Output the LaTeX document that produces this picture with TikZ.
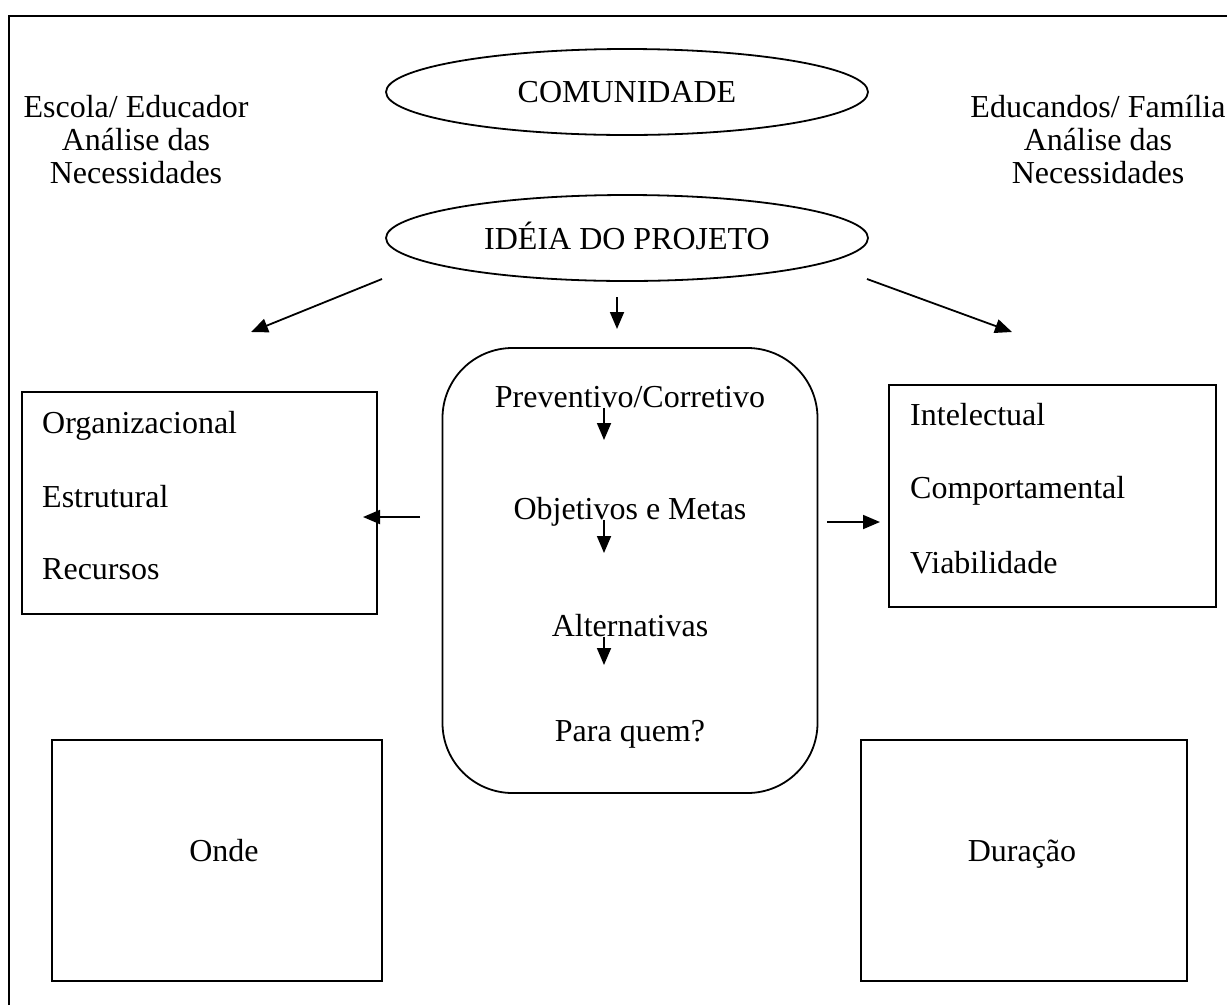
\documentclass[tikz,border=0pt]{standalone}
\usepackage{fontspec}
\setmainfont{Liberation Serif}
\usetikzlibrary{shapes.geometric,arrows.meta}
\begin{document}
\begin{tikzpicture}[x=1pt,y=-1pt,
  every node/.style={font=\fontsize{32}{33}\selectfont, inner sep=0pt},
  lbl/.style={anchor=base west},
  ctr/.style={anchor=base},
  oval/.style={ellipse, draw, line width=1.8pt, minimum width=482pt, minimum height=86pt},
  panel/.style={draw, line width=1.8pt},
  arr/.style={line width=1.8pt, -{Triangle[length=17pt,width=14pt]}},
  frame/.style={line width=2.5pt}]
\useasboundingbox (0,0) rectangle (1227,1005);

% open frame: top and left rules only
\draw[frame] (9,1005) -- (9,16) -- (1227,16);

% top row
\node[oval] (com) at (627,92) {COMUNIDADE};
\node[oval] (idea) at (627,238) {\raisebox{0pt}[0.7em][0pt]{IDÉIA DO PROJETO}};
\node[align=center, anchor=north] (escola) at (136,95)
  {Escola/ Educador\\Análise das\\Necessidades};
\node[align=center, anchor=north] (educ) at (1098,95)
  {Educandos/ Família\\Análise das\\Necessidades};

% side panels
\node[panel, minimum width=355pt, minimum height=222pt] (lbox) at (199.5,503) {};
\node[lbl] (org) at (42,433) {Organizacional};
\node[lbl] (est) at (42,507) {Estrutural};
\node[lbl] (rec) at (42,579) {Recursos};

\node[panel, minimum width=327pt, minimum height=222pt] (rbox) at (1052.5,496) {};
\node[lbl] (int) at (910,425) {Intelectual};
\node[lbl] (comp) at (910,498) {Comportamental};
\node[lbl] (via) at (910,573) {Viabilidade};

% central rounded panel
\node[panel, rounded corners=70pt, minimum width=375pt, minimum height=445pt] (mid) at (630,570.5) {};
\node[ctr] (prev) at (630,407) {Preventivo/Corretivo};
\node[ctr] (obj) at (630,519) {Objetivos e Metas};
\node[ctr] (alt) at (630,636) {Alternativas};
\node[ctr] (para) at (630,741) {Para quem?};

% bottom panels
\node[panel, minimum width=330pt, minimum height=241pt] (onde) at (217,860.5) {};
\node[ctr] (ondet) at (224,861) {Onde};
\node[panel, minimum width=326pt, minimum height=241pt] (dur) at (1024,860.5) {};
\node[ctr] (durt) at (1022,861) {Duração};

% connector ends
\coordinate (la0) at (382,279);  \coordinate (la1) at (251,332);
\coordinate (ra0) at (867,279);  \coordinate (ra1) at (1012,332);
\coordinate (ma0) at (617,297);  \coordinate (ma1) at (617,329);
\coordinate (ha0) at (420,517);  \coordinate (ha1) at (363,517);
\coordinate (hb0) at (827,522);  \coordinate (hb1) at (880,522);
\coordinate (s1a) at (604,408);  \coordinate (s1b) at (604,440);
\coordinate (s2a) at (604,520);  \coordinate (s2b) at (604,553);
\coordinate (s3a) at (604,637);  \coordinate (s3b) at (604,665);

\draw[arr] (la0) -- (la1);
\draw[arr] (ra0) -- (ra1);
\draw[arr] (ma0) -- (ma1);
\draw[arr] (ha0) -- (ha1);
\draw[arr] (hb0) -- (hb1);
\draw[arr] (s1a) -- (s1b);
\draw[arr] (s2a) -- (s2b);
\draw[arr] (s3a) -- (s3b);
\end{tikzpicture}
\end{document}
